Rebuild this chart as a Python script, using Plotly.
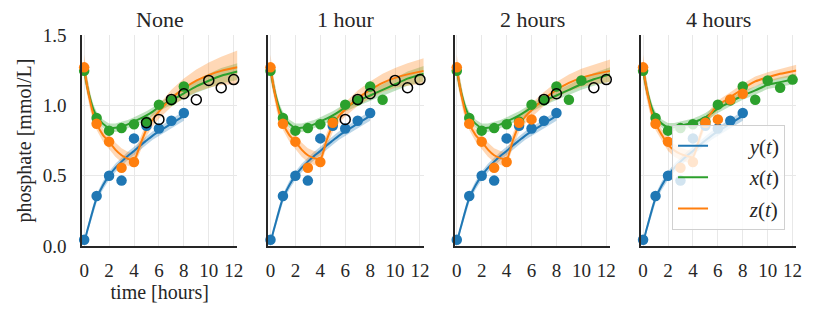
import plotly.graph_objects as go

# ---------------- data ----------------
PANEL_TITLES = ["None", "1 hour", "2 hours", "4 hours"]

# observation times and measured values
T_OBS = [0, 1, 2, 3, 4, 5, 6, 7, 8, 9, 10, 11, 12]
Y_OBS = [0.045, 0.355, 0.50, 0.465, 0.765, 0.855, 0.835, 0.89, 0.945]            # t = 0..8
X_OBS = [1.245, 0.91, 0.82, 0.838, 0.866, 0.885, 1.005, 1.035, 1.134, 1.04, 1.177, 1.125, 1.183]  # t = 0..12
Z_OBS = [1.27, 0.869, 0.742, 0.556, 0.597, 0.876, 0.90, 1.042, 1.082]              # t = 0..8

# last time point used in the fit for each panel (later points are shown as open circles)
X_FIT_LAST = [8, 9, 10, 12]
Z_FIT_LAST = [4, 5, 6, 8]

# fitted curves (mean and half band width) at these times
T_FIT = [0, 0.25, 0.5, 0.75, 1, 1.5, 2, 2.5, 3, 3.5, 4, 4.5, 5, 5.5, 6, 7, 8, 9, 10, 11, 12.3]
T_FIT_Y = T_FIT[:17]

Y_MEAN = [0.02, 0.11, 0.19, 0.27, 0.34, 0.43, 0.50, 0.555, 0.60, 0.64, 0.675, 0.715, 0.75,
          0.785, 0.815, 0.87, 0.925]
Y_HALF = [0.02, 0.025, 0.03, 0.03, 0.03, 0.03, 0.03, 0.03, 0.03, 0.03, 0.03, 0.03, 0.03,
          0.03, 0.03, 0.035, 0.035]

X_MEAN = [
    [1.25, 1.13, 1.04, 0.97, 0.925, 0.87, 0.84, 0.84, 0.85, 0.865, 0.885, 0.905, 0.928, 0.955, 0.99, 1.035, 1.085, 1.135, 1.175, 1.21, 1.24],
    [1.25, 1.13, 1.04, 0.97, 0.925, 0.87, 0.84, 0.84, 0.85, 0.865, 0.885, 0.905, 0.928, 0.955, 0.985, 1.03, 1.07, 1.11, 1.15, 1.19, 1.225],
    [1.25, 1.13, 1.04, 0.97, 0.925, 0.87, 0.84, 0.84, 0.85, 0.865, 0.885, 0.905, 0.928, 0.955, 0.985, 1.03, 1.07, 1.11, 1.15, 1.185, 1.22],
    [1.25, 1.13, 1.04, 0.97, 0.925, 0.87, 0.845, 0.845, 0.855, 0.865, 0.876, 0.895, 0.916, 0.945, 0.976, 1.023, 1.07, 1.106, 1.146, 1.165, 1.189],
]
X_HALF = [
    [0.06, 0.05, 0.04, 0.035, 0.03, 0.03, 0.03, 0.03, 0.03, 0.03, 0.03, 0.03, 0.03, 0.03, 0.03, 0.035, 0.04, 0.045, 0.05, 0.055, 0.06],
    [0.06, 0.05, 0.04, 0.035, 0.03, 0.03, 0.03, 0.03, 0.03, 0.03, 0.03, 0.03, 0.03, 0.03, 0.03, 0.035, 0.035, 0.04, 0.045, 0.05, 0.055],
    [0.06, 0.05, 0.04, 0.035, 0.03, 0.03, 0.03, 0.03, 0.03, 0.03, 0.03, 0.03, 0.03, 0.03, 0.03, 0.03, 0.035, 0.035, 0.04, 0.045, 0.05],
    [0.06, 0.05, 0.04, 0.035, 0.03, 0.03, 0.03, 0.03, 0.03, 0.03, 0.03, 0.03, 0.03, 0.03, 0.03, 0.03, 0.03, 0.03, 0.03, 0.035, 0.035],
]

Z_MEAN = [
    [1.27, 1.13, 1.02, 0.93, 0.87, 0.79, 0.74, 0.685, 0.645, 0.62, 0.61, 0.72, 0.83, 0.90, 0.955, 1.05, 1.12, 1.175, 1.215, 1.245, 1.27],
    [1.27, 1.13, 1.02, 0.93, 0.87, 0.79, 0.74, 0.685, 0.645, 0.625, 0.615, 0.75, 0.86, 0.925, 0.97, 1.05, 1.11, 1.16, 1.195, 1.22, 1.245],
    [1.27, 1.13, 1.02, 0.93, 0.87, 0.79, 0.74, 0.685, 0.645, 0.625, 0.615, 0.75, 0.86, 0.92, 0.965, 1.045, 1.11, 1.16, 1.195, 1.22, 1.245],
    [1.27, 1.13, 1.02, 0.93, 0.87, 0.79, 0.72, 0.68, 0.655, 0.64, 0.632, 0.76, 0.885, 0.95, 1.0, 1.058, 1.118, 1.17, 1.2, 1.224, 1.248],
]
Z_HALF = [
    [0.09, 0.07, 0.06, 0.05, 0.045, 0.045, 0.05, 0.05, 0.05, 0.05, 0.05, 0.05, 0.05, 0.05, 0.05, 0.06, 0.07, 0.08, 0.09, 0.10, 0.12],
    [0.09, 0.07, 0.06, 0.05, 0.045, 0.045, 0.05, 0.05, 0.05, 0.05, 0.05, 0.05, 0.05, 0.05, 0.05, 0.055, 0.06, 0.065, 0.07, 0.08, 0.09],
    [0.09, 0.07, 0.06, 0.05, 0.045, 0.045, 0.05, 0.05, 0.05, 0.05, 0.05, 0.05, 0.05, 0.05, 0.05, 0.05, 0.055, 0.06, 0.065, 0.07, 0.08],
    [0.09, 0.07, 0.06, 0.05, 0.045, 0.04, 0.045, 0.045, 0.045, 0.045, 0.045, 0.04, 0.035, 0.035, 0.035, 0.035, 0.035, 0.035, 0.035, 0.035, 0.04],
]

X_TICKS = [0, 2, 4, 6, 8, 10, 12]
Y_TICKS = [0.0, 0.5, 1.0, 1.5]
Y_TICK_TEXT = ["0.0", "0.5", "1.0", "1.5"]

# ---------------- styling ----------------
BLUE, GREEN, ORANGE = "#1f77b4", "#2ca02c", "#ff7f0e"
BLUE_F, GREEN_F, ORANGE_F = "rgba(31,119,180,0.3)", "rgba(44,160,44,0.3)", "rgba(255,127,14,0.3)"
FONT = "Liberation Serif, DejaVu Serif, serif"
TXT = "#262626"
W, H = 838, 314
PLOT_LEFT = [80.7, 268.8, 456.9, 645.0]
PLOT_W = 157.0

fig = go.Figure()


def band(t, mean, half, fill, ax):
    up = [m + h for m, h in zip(mean, half)]
    lo = [m - h for m, h in zip(mean, half)]
    fig.add_trace(go.Scatter(x=list(t) + list(t)[::-1], y=up + lo[::-1], fill="toself",
                             fillcolor=fill, line=dict(width=0), mode="lines",
                             hoverinfo="skip", showlegend=False, xaxis=ax[0], yaxis=ax[1]))


PAD = "\u00a0" * 7
for i in range(4):
    ax = ("x" if i == 0 else f"x{i+1}", "y" if i == 0 else f"y{i+1}")
    # bands
    band(T_FIT_Y, Y_MEAN, Y_HALF, BLUE_F, ax)
    band(T_FIT, X_MEAN[i], X_HALF[i], GREEN_F, ax)
    band(T_FIT, Z_MEAN[i], Z_HALF[i], ORANGE_F, ax)
    # fitted lines
    leg = (i == 3)
    fig.add_trace(go.Scatter(x=T_FIT_Y, y=Y_MEAN, mode="lines", line=dict(color=BLUE, width=2, shape="spline", smoothing=0.6),
                             name=PAD + "<i>y</i>(<i>t</i>)", legendgroup="y", showlegend=leg,
                             xaxis=ax[0], yaxis=ax[1]))
    fig.add_trace(go.Scatter(x=T_FIT, y=X_MEAN[i], mode="lines", line=dict(color=GREEN, width=2, shape="spline", smoothing=0.6),
                             name=PAD + "<i>x</i>(<i>t</i>)", legendgroup="x", showlegend=leg,
                             xaxis=ax[0], yaxis=ax[1]))
    fig.add_trace(go.Scatter(x=T_FIT, y=Z_MEAN[i], mode="lines", line=dict(color=ORANGE, width=2, shape="spline", smoothing=0.6),
                             name=PAD + "<i>z</i>(<i>t</i>)", legendgroup="z", showlegend=leg,
                             xaxis=ax[0], yaxis=ax[1]))
    # observations used in the fit
    nx = X_FIT_LAST[i] + 1
    nz = Z_FIT_LAST[i] + 1
    mk = dict(size=10.5, line=dict(width=0))
    fig.add_trace(go.Scatter(x=T_OBS[:len(Y_OBS)], y=Y_OBS, mode="markers", marker=dict(color=BLUE, **mk),
                             showlegend=False, cliponaxis=False, xaxis=ax[0], yaxis=ax[1]))
    fig.add_trace(go.Scatter(x=T_OBS[:nx], y=X_OBS[:nx], mode="markers", marker=dict(color=GREEN, **mk),
                             showlegend=False, cliponaxis=False, xaxis=ax[0], yaxis=ax[1]))
    fig.add_trace(go.Scatter(x=T_OBS[:nz], y=Z_OBS[:nz], mode="markers", marker=dict(color=ORANGE, **mk),
                             showlegend=False, cliponaxis=False, xaxis=ax[0], yaxis=ax[1]))
    # held-out observations
    ht = T_OBS[nz:len(Z_OBS)] + T_OBS[nx:]
    hv = Z_OBS[nz:] + X_OBS[nx:]
    if ht:
        fig.add_trace(go.Scatter(x=ht, y=hv, mode="markers",
                                 marker=dict(symbol="circle-open", size=10, color="black", line=dict(width=1.5)),
                                 showlegend=False, cliponaxis=False, xaxis=ax[0], yaxis=ax[1]))

layout = dict(
    width=W, height=H,
    margin=dict(l=0, r=0, t=35, b=68.3, pad=0),
    plot_bgcolor="white", paper_bgcolor="white",
    font=dict(family=FONT, color=TXT, size=19),
    showlegend=True,
    legend=dict(x=676.5 / W, y=0.575, xanchor="left", yanchor="top",
                bgcolor="rgba(255,255,255,0.8)", bordercolor="#d0d0d0", borderwidth=1,
                font=dict(family=FONT, size=21, color=TXT), traceorder="grouped",
                tracegroupgap=1, itemwidth=30, entrywidth=126),
    annotations=[],
)

for i in range(4):
    xa = "xaxis" if i == 0 else f"xaxis{i+1}"
    ya = "yaxis" if i == 0 else f"yaxis{i+1}"
    d0 = PLOT_LEFT[i] / W
    d1 = (PLOT_LEFT[i] + PLOT_W) / W
    layout[xa] = dict(domain=[d0, d1], anchor="y" if i == 0 else f"y{i+1}", range=[-0.18, 12.3],
                      tickvals=X_TICKS, showline=True, linecolor=TXT, linewidth=1.5,
                      showgrid=True, gridcolor="#e8e8e8", gridwidth=1, zeroline=False,
                      ticks="outside", ticklen=6, tickcolor="rgba(0,0,0,0)",
                      tickfont=dict(size=19, family=FONT, color=TXT))
    layout[ya] = dict(domain=[0, 1], anchor="x" if i == 0 else f"x{i+1}", range=[0, 1.5],
                      tickvals=Y_TICKS, ticktext=Y_TICK_TEXT, showticklabels=(i == 0),
                      showline=True, linecolor=TXT, linewidth=1.5,
                      showgrid=True, gridcolor="#e8e8e8", gridwidth=1, zeroline=False,
                      ticks="outside", ticklen=10, tickcolor="rgba(0,0,0,0)",
                      tickfont=dict(size=19, family=FONT, color=TXT))
    layout["annotations"].append(dict(text=PANEL_TITLES[i], x=(d0 + d1) / 2, xref="paper",
                                      y=1, yref="paper", yanchor="bottom", xanchor="center",
                                      yshift=1, showarrow=False,
                                      font=dict(size=22, family=FONT, color=TXT)))

layout["xaxis"]["title"] = dict(text="time [hours]", font=dict(size=20, family=FONT, color=TXT), standoff=2)
layout["yaxis"]["title"] = dict(text="phosphate [mmol/L]", font=dict(size=20, family=FONT, color=TXT), standoff=6)

fig.update_layout(**layout)
fig.write_html("out.html", config={"displayModeBar": False},
               post_script="document.body.style.margin='0';document.body.style.padding='0';")
